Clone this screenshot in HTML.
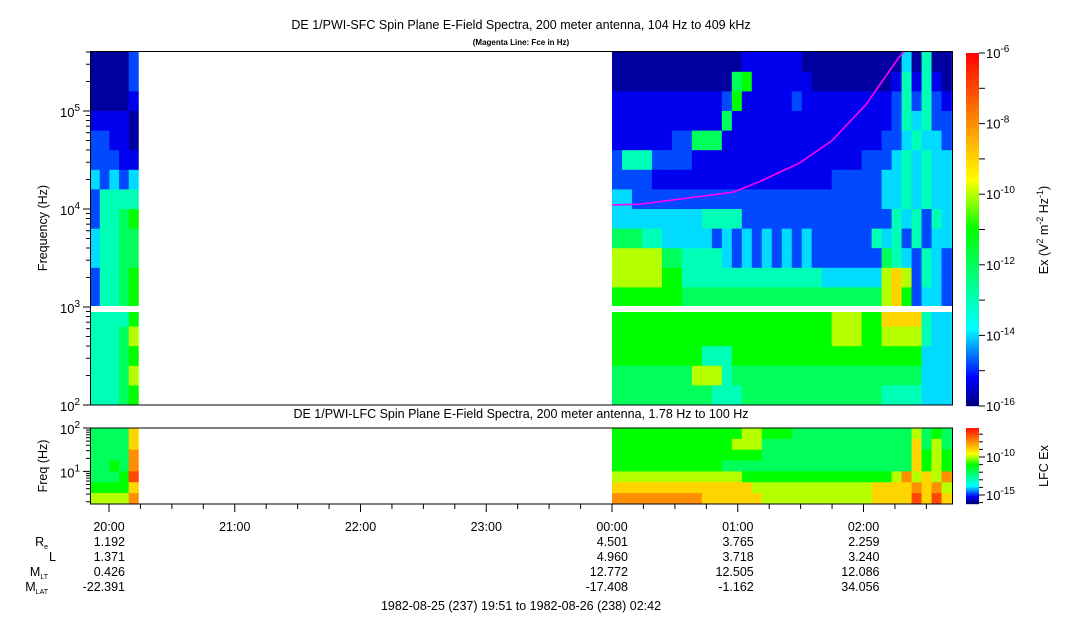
<!DOCTYPE html>
<html><head><meta charset="utf-8">
<style>
html,body{margin:0;padding:0;background:#fff;}
svg{display:block;font-family:"Liberation Sans",sans-serif;}
</style></head>
<body>
<svg id="chart" width="1083" height="620" viewBox="0 0 1083 620" xmlns="http://www.w3.org/2000/svg">
<rect width="1083" height="620" fill="#fff"/>
<text x="521" y="29" font-size="12.5" text-anchor="middle">DE 1/PWI-SFC  Spin Plane E-Field Spectra, 200 meter antenna, 104 Hz to 409 kHz</text>
<text x="521" y="45" font-size="8" font-weight="bold" text-anchor="middle">(Magenta Line: Fce in Hz)</text>
<text x="521" y="418" font-size="12.5" text-anchor="middle">DE 1/PWI-LFC  Spin Plane E-Field Spectra, 200 meter antenna, 1.78 Hz to 100 Hz</text>
<g id="sfc"></g>
<g id="lfc"></g>
<g id="axes"></g>
<text transform="translate(47,228) rotate(-90)" font-size="12.5" text-anchor="middle">Frequency (Hz)</text>
<text transform="translate(47,466) rotate(-90)" font-size="12.5" text-anchor="middle">Freq (Hz)</text>
<text transform="translate(1048,230) rotate(-90)" font-size="12.5" text-anchor="middle">Ex (V<tspan dy="-5" font-size="9">2</tspan><tspan dy="5"> m</tspan><tspan dy="-5" font-size="9">-2</tspan><tspan dy="5"> Hz</tspan><tspan dy="-5" font-size="9">-1</tspan><tspan dy="5">)</tspan></text>
<text transform="translate(1048,466) rotate(-90)" font-size="12.5" text-anchor="middle">LFC Ex</text>
<text x="521" y="610" font-size="12.5" text-anchor="middle">1982-08-25 (237) 19:51 to 1982-08-26 (238) 02:42</text>
</svg>
<script>
// ---- data ----
const segStartMin = [-249, 0];     // minutes rel. 1982-08-26 00:00
const segEndMin = [-226, 162];
const sfcRowEdges = [5.61,5.4,5.2,5.0,4.8,4.6,4.4,4.2,4.0,3.8,3.6,3.4,3.2,3.0,2.8,2.6,2.4,2.2,2.0]; // log10 Hz
const lfcRowEdges = [2.0,1.75,1.5,1.25,1.0,0.75,0.5,0.25];
const levelCodes = ['0','1','2','3','4','5','6','7','8','9','a','b'];
const levelValues = [-16,-15.8,-15.3,-14.8,-14,-13,-12,-11,-10,-9,-8,-7]; // log10 V2/m2/Hz
const sfcA = ["11113","11113","11112","22221","33221","33322","43434","35555","35567","45566","45566","35567","35567","55557","55568","55567","55568","55567"];
const sfcB = [
"1111111111111222222111111111141511",
"1111111111116722222211111111252521",
"2222222222237222223222222222353532",
"2222222222262222222222222222354533",
"2222223366622222222222222223345443",
"3555333322222222222222222333454544",
"3333222222222222222222333334454544",
"4433333333333333333333333334454544",
"4444444445555333333333333333545354",
"6665544444343434343433333354535344",
"8888866555543434343433333336543543",
"8888877555555555555554444448983543",
"7777777666666666666666666668973443",
"7777777777777777777777888779999544",
"7777777777777777777777888778888544",
"7777777775557777777777777777777444",
"6666666688856666666666666666666444",
"6666666666555666666666666665555444"];
const lfcA = ["66669","66669","6666a","6676a","6667b","77779","8888a"];
const lfcB = [
"7777777777777887776666666666668676",
"7777777777778886666666666666669686",
"7777777777777776666666666666669787",
"7777777777766666666666666666669787",
"88888888888887777777777777778a898a",
"999999999999998888888888889999a9a8",
"aaaaaaaaa999999888888888889999b9b9"];
const fceMin = [0, 13.3, 57.5, 70.4, 89.4, 105, 113, 121, 137, 139.3];
const fceHz = [11000, 11200, 14800, 19000, 29500, 50000, 76000, 115000, 355000, 400000];
const hourLabels = ["20:00","21:00","22:00","23:00","00:00","01:00","02:00"];
const hourMin = [-240,-180,-120,-60,0,60,120];
const ephemLabels = ["R","L","M","M"];
const ephemSubs = ["e","","LT","LAT"];
const ephemCols = [-240, 0, 60, 120];
const ephemRe = ["1.192","4.501","3.765","2.259"];
const ephemL = ["1.371","4.960","3.718","3.240"];
const ephemMLT = ["0.426","12.772","12.505","12.086"];
const ephemMLAT = ["-22.391","-17.408","-1.162","34.056"];
const sfcTickExp = [2,3,4,5];
const cbarTickExp = [-6,-8,-10,-12,-14,-16];
const lfcCbarTickExp = [-10,-15];

// ---- scales ----
const NS="http://www.w3.org/2000/svg";
const X0=612, PXH=125.75;
const xS = m => X0 + m*PXH/60;
const yS = lf => 405 - (lf-2)*98;
const yL = lf => 428 + (2-lf)*43.4;
const cbY = v => 53 + (-6 - v)*(406-53)/10;
const lcbY = v => 457 + (-10 - v)*7.6;
const stops=[[-16,0,0,128],[-15.2,0,0,255],[-13.8,0,255,255],[-11,0,255,0],[-9.6,255,255,0],[-6,255,0,0]];
function col(v){
  if(v<=stops[0][0]) return `rgb(${stops[0][1]},${stops[0][2]},${stops[0][3]})`;
  for(let i=1;i<stops.length;i++){ if(v<=stops[i][0]){const a=stops[i-1],b=stops[i],t=(v-a[0])/(b[0]-a[0]);
    return `rgb(${Math.round(a[1]+t*(b[1]-a[1]))},${Math.round(a[2]+t*(b[2]-a[2]))},${Math.round(a[3]+t*(b[3]-a[3]))})`;}}
  return 'rgb(255,0,0)';
}
const lvl = c => levelValues[levelCodes.indexOf(c)];
function el(tag,attrs,parent){const e=document.createElementNS(NS,tag);for(const k in attrs)e.setAttribute(k,attrs[k]);parent.appendChild(e);return e;}

const sfc=document.getElementById('sfc'), lfc=document.getElementById('lfc'), ax=document.getElementById('axes');
function drawGrid(rows, seg, edges, yf, parent, name){
  const n=rows[0].length, t0=segStartMin[seg], t1=segEndMin[seg];
  rows.forEach((row,r)=>{
    for(let c=0;c<n;c++){
      const xa=xS(t0+(t1-t0)*c/n), xb=xS(t0+(t1-t0)*(c+1)/n);
      const ya=yf(edges[r]), yb=yf(edges[r+1]);
      const e=el('rect',{x:xa.toFixed(2),y:ya.toFixed(2),width:(xb-xa+0.4).toFixed(2),height:(yb-ya+0.4).toFixed(2),fill:col(lvl(row[c]))},parent);
      
      
    }
  });
}
drawGrid(sfcA,0,sfcRowEdges,yS,sfc,'sfc-cell');
drawGrid(sfcB,1,sfcRowEdges,yS,sfc,'sfc-cell');
const gap=el('rect',{x:90,y:306,width:863,height:6,fill:'#fff'},sfc);


drawGrid(lfcA,0,lfcRowEdges,yL,lfc,'lfc-cell');
drawGrid(lfcB,1,lfcRowEdges,yL,lfc,'lfc-cell');

// fce line
const fp=fceMin.map((m,i)=>xS(m).toFixed(1)+','+yS(Math.log10(fceHz[i])).toFixed(1)).join(' ');
const fl=el('polyline',{points:fp,fill:'none',stroke:'#f0f','stroke-width':1.6},sfc);



// frames
const f1=el('rect',{x:90.5,y:51.5,width:862,height:353.5,fill:'none',stroke:'#000'},ax);


const f2=el('rect',{x:90.5,y:428,width:862,height:76,fill:'none',stroke:'#000'},ax);



function sup(x,y,base,exp,anchor,parent,name){
  const t=el('text',{x:x,y:y,'font-size':13,'text-anchor':anchor},parent);
  
  
  t.appendChild(document.createTextNode(base));
  const s=el('tspan',{dy:-6,'font-size':10},t); s.textContent=exp;
}
// SFC y ticks
for(let d=2; d<=5; d++){
  for(let k=1;k<=9;k++){
    const lf=d+Math.log10(k); if(lf>5.61) break;
    const y=yS(lf);
    el('line',{x1:k==1?83:86,x2:90,y1:y,y2:y,stroke:'#000'},ax);
  }
}
sfcTickExp.forEach(e=>sup(70,yS(e)+6,'10',String(e),'middle',ax,'y-tick-label'));
// LFC y ticks
for(let d=0; d<=2; d++){
  for(let k=1;k<=9;k++){
    const lf=d+Math.log10(k); if(lf<0.25||lf>2) continue;
    const y=yL(lf);
    el('line',{x1:k==1?83:86,x2:90,y1:y,y2:y,stroke:'#000'},ax);
  }
}
sup(70,yL(2)+6,'10','2','middle',ax,'lfc-y-tick-label');
sup(70,yL(1)+6,'10','1','middle',ax,'lfc-y-tick-label');

// time ticks
for(let m=-240;m<=162;m+=15){
  const x=xS(m); const major=(m%60===0);
  el('line',{x1:x,x2:x,y1:504,y2:major?512:509,stroke:'#000'},ax);
}
hourLabels.forEach((h,i)=>{
  const t=el('text',{x:xS(hourMin[i]),y:531,'font-size':12.5,'text-anchor':'middle'},ax);
  
  
  t.textContent=h;
});
// ephemeris
const ephemRows=[ephemRe,ephemL,ephemMLT,ephemMLAT];
ephemRows.forEach((vals,r)=>{
  const y=546+r*15;
  const lab=el('text',{x:ephemSubs[r]?48:56,y:y,'font-size':12.5,'text-anchor':'end'},ax);
  
  
  lab.textContent=ephemLabels[r];
  if(ephemSubs[r]){const s=el('tspan',{dy:3,'font-size':7},lab); s.textContent=ephemSubs[r];}
  vals.forEach((v,i)=>{
    const t=el('text',{x:xS(ephemCols[i])+16,y:y,'font-size':12.5,'text-anchor':'end'},ax);
    
    
    t.textContent=v;
  });
});

// colorbars
for(let y=53;y<406;y++){const v=-6-(y-53+0.5)*10/353; el('rect',{x:966,y:y,width:13,height:1.2,fill:col(v)},ax);}
for(let y=428;y<504;y++){const v=-10-(y-457+0.5)/7.6; el('rect',{x:966,y:y,width:13,height:1.2,fill:col(v)},ax);}
for(let e=-6;e>=-16;e--){const y=cbY(e); el('line',{x1:979,x2:985,y1:y,y2:y,stroke:'#000'},ax);}
cbarTickExp.forEach(e=>sup(986,cbY(e)+5,'10',String(e),'start',ax,'colorbar-tick-label'));
for(let e=-7;e>=-16;e--){const y=lcbY(e); if(y<428||y>504) continue; el('line',{x1:979,x2:(e%5===0)?985:983,y1:y,y2:y,stroke:'#000'},ax);}
lfcCbarTickExp.forEach(e=>sup(986,lcbY(e)+5,'10',String(e),'start',ax,'lfc-colorbar-tick-label'));
</script>
</body></html>
